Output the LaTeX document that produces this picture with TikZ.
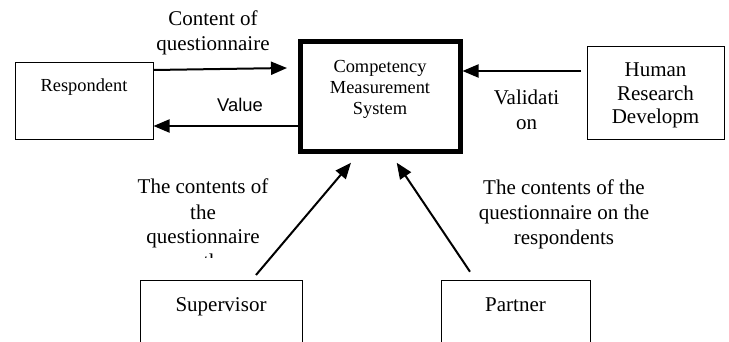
\documentclass[tikz,border=0pt]{standalone}
\usepackage{fontspec}
\setmainfont{Liberation Serif}
\newfontfamily\arialfont{Liberation Sans}
\usetikzlibrary{arrows.meta}

\begin{document}
\begin{tikzpicture}[
    x=1pt, y=-1pt,
    every node/.style={align=center},
    box/.style={draw, line width=1pt, font=\fontsize{21}{23.5}\selectfont},
    small/.style={font=\fontsize{18.4}{21}\selectfont},
    lbl/.style={font=\fontsize{21}{25}\selectfont, anchor=base, inner sep=0pt},
    arr/.style={line width=2pt, -{Triangle[length=16pt,width=13pt]}},
]
\useasboundingbox (0,0) rectangle (729,342);
\clip (0,0) rectangle (729,342);

\node[box, small, minimum width=138pt, minimum height=77pt,
  text height=13pt, text depth=33pt] (resp) at (84,101.5) {Respondent};
\node[box, small, line width=5pt, minimum width=160pt, minimum height=110pt,
  text height=55pt, text depth=19pt] (cms) at (380,97) {Competency\\Measurement\\System};
\node[box, minimum width=137pt, minimum height=93pt,
  text height=62pt, text depth=1pt] (hrd) at (655.5,93.5) {Human\\Research\\Developm};
\node[box, minimum width=162pt, minimum height=80pt,
  text height=15pt, text depth=33pt] (sup) at (221,320) {Supervisor};
\node[box, minimum width=149pt, minimum height=80pt,
  text height=15pt, text depth=33pt] (part) at (515.5,320) {Partner};

\node[lbl] (content) at (213,50.5) {Content of\\questionnaire};
\node[lbl, font=\arialfont\fontsize{18.4}{21}\selectfont] (value) at (240,112) {Value};
\node[lbl] (valid) at (526.5,130) {Validati\\on};
\begin{scope}
  \clip (0,0) rectangle (729,257.5);
  \node[lbl] (supq) at (203,269) {The contents of\\the\\questionnaire\\on the};
\end{scope}
\node[lbl] (partq) at (564,244) {The contents of the\\questionnaire on the\\respondents};

\draw[arr] ([yshift=31.5pt]resp.east) -- ([xshift=-10.5pt,yshift=29pt]cms.west);
\draw[arr] ([yshift=-29pt]cms.west) -- ([yshift=-29pt]cms.west -| resp.east);
\draw[arr, shorten <=5.5pt] ([yshift=26pt]cms.east -| hrd.west) -- ([yshift=26pt]cms.east);
\draw[arr] ([xshift=35pt,yshift=4.5pt]sup.north) -- ([xshift=-29pt,yshift=-8.2pt]cms.south);
\draw[arr] ([xshift=-45.5pt,yshift=7.8pt]part.north) -- ([xshift=16.7pt,yshift=-8.2pt]cms.south);
\end{tikzpicture}
\end{document}
